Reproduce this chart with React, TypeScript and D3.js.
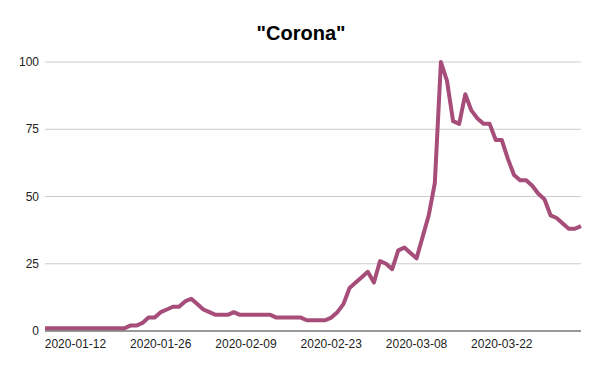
import React from 'react'
import * as d3 from 'd3'

// daily values, one per day starting 2020-01-07
const startDate = '2020-01-07'
const values: number[] = [
  1, 1, 1, 1, 1, 1, 1, 1, 1, 1, 1, 1, 1, 1,
  2, 2, 3, 5, 5, 7, 8, 9, 9, 11, 12, 10, 8, 7,
  6, 6, 6, 7, 6, 6, 6, 6, 6, 6, 5, 5, 5, 5,
  5, 4, 4, 4, 4, 5, 7, 10, 16, 18, 20, 22, 18, 26,
  25, 23, 30, 31, 29, 27, 35, 43, 55, 100, 93, 78, 77, 88,
  82, 79, 77, 77, 71, 71, 64, 58, 56, 56, 54, 51, 49, 43,
  42, 40, 38, 38, 39,
]
const yTicks = [0, 25, 50, 75, 100]
const xTickLabels = ['2020-01-12', '2020-01-26', '2020-02-09', '2020-02-23', '2020-03-08', '2020-03-22']
const title = '"Corona"'

const parse = d3.utcParse('%Y-%m-%d')

const App: React.FC = () => {
  const width = 600
  const height = 371
  const margin = { top: 62, right: 19, bottom: 40, left: 45 }

  const start = parse(startDate)!
  const data = values.map((v, i) => ({ date: d3.utcDay.offset(start, i), value: v }))

  const x = d3
    .scaleUtc()
    .domain([data[0].date, data[data.length - 1].date])
    .range([margin.left, width - margin.right])

  const y = d3
    .scaleLinear()
    .domain([0, 100])
    .range([height - margin.bottom, margin.top])

  const line = d3
    .line<{ date: Date; value: number }>()
    .x((d) => x(d.date))
    .y((d) => y(d.value))

  const font = '"Liberation Sans", Arial, sans-serif'

  return (
    <svg width={width} height={height} style={{ position: 'absolute', left: 0, top: 0, background: '#fff' }}>
      <text x={301} y={40} textAnchor="middle" fontFamily={font} fontSize={20} fontWeight="bold" fill="#000">
        {title}
      </text>

      {/* horizontal gridlines and y labels */}
      {yTicks.map((t) => (
        <g key={t}>
          {t !== 0 && (
            <line x1={margin.left} x2={width - margin.right} y1={y(t)} y2={y(t)} stroke="#cccccc" strokeWidth={1} />
          )}
          <text x={39} y={y(t)} dy="0.35em" textAnchor="end" fontFamily={font} fontSize={12} fill="#222">
            {t}
          </text>
        </g>
      ))}

      {/* x labels */}
      {xTickLabels.map((s) => (
        <text key={s} x={x(parse(s)!)} y={height - margin.bottom + 17} textAnchor="middle" fontFamily={font} fontSize={12} fill="#222">
          {s}
        </text>
      ))}

      <path d={line(data) ?? ''} fill="none" stroke="#a64d79" strokeWidth={4} strokeLinejoin="round" />

      {/* baseline */}
      <line x1={margin.left} x2={width - margin.right} y1={y(0)} y2={y(0)} stroke="#333" strokeWidth={1} />
    </svg>
  )
}

export default App
